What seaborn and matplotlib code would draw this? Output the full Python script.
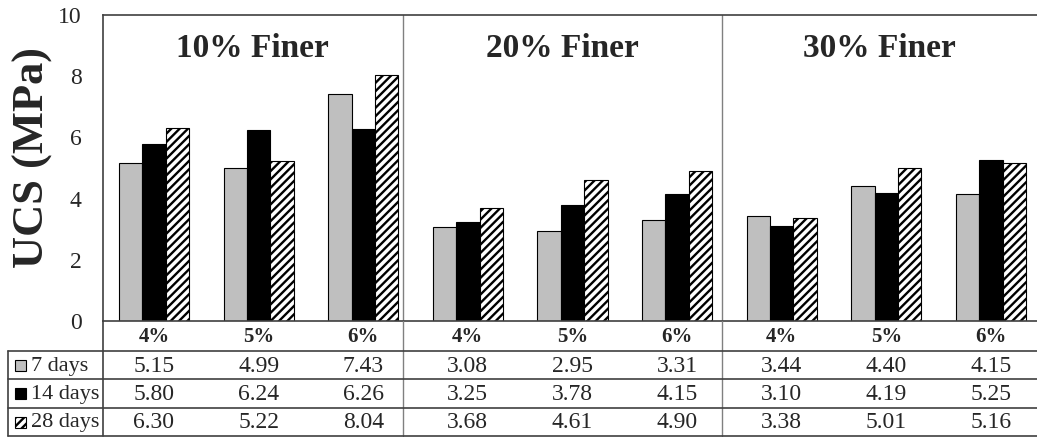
import matplotlib

matplotlib.use("Agg")
import matplotlib.pyplot as plt
from matplotlib.patches import Rectangle
import pandas as pd
import seaborn as sns

GROUPS = ["10% Finer", "20% Finer", "30% Finer"]
CEMENT = ["4%", "5%", "6%"]
SERIES = ["7 days", "14 days", "28 days"]
UCS_7 = [5.15, 4.99, 7.43, 3.08, 2.95, 3.31, 3.44, 4.40, 4.15]
UCS_14 = [5.80, 6.24, 6.26, 3.25, 3.78, 4.15, 3.10, 4.19, 5.25]
UCS_28 = [6.30, 5.22, 8.04, 3.68, 4.61, 4.90, 3.38, 5.01, 5.16]
Y_TICKS = [0, 2, 4, 6, 8, 10]

FACE = {"7 days": "#bfbfbf", "14 days": "#000000", "28 days": "#ffffff"}
HATCH = {"7 days": "", "14 days": "", "28 days": "////"}

# layout, in figure pixels (1037 x 437)
W, H = 1037, 437
AX_L, AX_T, AX_B = 102.7, 15, 321
ROW_EDGES = [321, 351, 379, 408, 436]
X_LIM = (-0.49, 8.44)
SEPARATORS = [2.378, 5.43]
LEG_LEFT = -1.396
LINE = "#404040"
SEP = "#808080"


def main():
    sns.set_style("white")
    plt.rcParams["font.family"] = ["Liberation Serif", "DejaVu Serif"]
    plt.rcParams["hatch.linewidth"] = 1.7

    cats = [f"{g}|{c}" for g in GROUPS for c in CEMENT]
    df = pd.DataFrame(
        {
            "cat": cats * 3,
            "series": [s for s in SERIES for _ in cats],
            "ucs": UCS_7 + UCS_14 + UCS_28,
        }
    )

    fig = plt.figure(figsize=(W / 100, H / 100), dpi=100)
    ax = fig.add_axes([AX_L / W, (H - AX_B) / H, (W - AX_L) / W, (AX_B - AX_T) / H])
    tax = fig.add_axes(
        [AX_L / W, (H - ROW_EDGES[-1]) / H, (W - AX_L) / W, (ROW_EDGES[-1] - ROW_EDGES[0]) / H],
        sharex=ax,
    )

    sns.barplot(
        data=df, x="cat", y="ucs", hue="series", order=cats, hue_order=SERIES,
        width=0.67, gap=0, legend=False, ax=ax, errorbar=None,
    )
    for cont, s in zip(ax.containers, SERIES):
        for bar in cont:
            bar.set_facecolor(FACE[s])
            bar.set_edgecolor("black")
            bar.set_linewidth(0.8)
            bar.set_hatch(HATCH[s])

    ax.set_xlim(*X_LIM)
    ax.set_ylim(0, 10)
    ax.set_yticks(Y_TICKS)
    ax.set_yticklabels([str(t) for t in Y_TICKS], fontsize=17)
    ax.tick_params(axis="y", length=0, pad=15)
    ax.tick_params(axis="x", bottom=False, labelbottom=False)
    ax.set_xlabel("")
    ax.set_ylabel("UCS (MPa)", fontsize=32, fontweight="bold", va="center")
    ax.yaxis.set_label_coords(-0.075, 0.535)
    for side in ("left", "top", "bottom"):
        ax.spines[side].set_color(LINE)
        ax.spines[side].set_linewidth(1.2)
    ax.spines["right"].set_visible(False)

    bounds = [X_LIM[0]] + SEPARATORS + [X_LIM[1]]
    for i, g in enumerate(GROUPS):
        ax.text((bounds[i] + bounds[i + 1]) / 2, 8.63, g, ha="center", va="baseline",
                fontsize=24, fontweight="bold")
    for x in SEPARATORS:
        ax.axvline(x, color=SEP, lw=1)

    # data table under the bars
    tax.set_ylim(ROW_EDGES[-1], ROW_EDGES[0])
    tax.axis("off")
    for x in SEPARATORS + [X_LIM[0]]:
        tax.plot([x, x], [ROW_EDGES[0], ROW_EDGES[-1]], color=SEP if x != X_LIM[0] else LINE,
                 lw=1 if x != X_LIM[0] else 1.2, clip_on=False)
    for y in ROW_EDGES[1:]:
        tax.plot([LEG_LEFT, X_LIM[1]], [y, y], color=LINE, lw=1.2, clip_on=False)
    tax.plot([LEG_LEFT, LEG_LEFT], [ROW_EDGES[1], ROW_EDGES[-1]], color=LINE, lw=1.2, clip_on=False)

    row_mid = [(ROW_EDGES[i] + ROW_EDGES[i + 1]) / 2 for i in range(4)]
    for i, c in enumerate(cats):
        tax.text(i, row_mid[0] + 1.5, c.split("|")[1], ha="center", va="center",
                 fontsize=15, fontweight="bold")
    for r, (s, vals) in enumerate(zip(SERIES, [UCS_7, UCS_14, UCS_28])):
        y = row_mid[r + 1]
        for i, v in enumerate(vals):
            tax.text(i, y + 1, f"{v:.2f}", ha="center", va="center", fontsize=17)
        tax.add_patch(Rectangle((LEG_LEFT + 0.068, y - 5.5), 0.105, 11, facecolor=FACE[s],
                                edgecolor="black", lw=0.8, hatch=HATCH[s], clip_on=False))
        tax.text(LEG_LEFT + 0.225, y + 1, s, ha="left", va="center", fontsize=16)

    fig.savefig("out.png", dpi=100)
    plt.close(fig)


if __name__ == "__main__":
    main()
